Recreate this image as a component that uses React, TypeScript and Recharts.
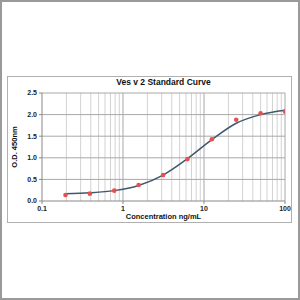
import React from 'react';
import { ComposedChart, Line, Scatter, XAxis, YAxis, ReferenceLine } from 'recharts';

const concentrations = [0.195, 0.39, 0.78, 1.56, 3.125, 6.25, 12.5, 25, 50, 100];
const odMeasured = [0.14, 0.17, 0.24, 0.37, 0.6, 0.97, 1.43, 1.88, 2.03, 2.07];
const odFitted = [0.17, 0.19, 0.24, 0.36, 0.6, 0.98, 1.42, 1.8, 2.0, 2.1];

const xTicks = [0.1, 1, 10, 100];
const yTicks = [0, 0.5, 1, 1.5, 2, 2.5];
const minorX = [
  0.2, 0.3, 0.4, 0.5, 0.6, 0.7, 0.8, 0.9,
  2, 3, 4, 5, 6, 7, 8, 9,
  20, 30, 40, 50, 60, 70, 80, 90,
];

const points = concentrations.map((x, i) => ({ x, y: odMeasured[i] }));
const curve = concentrations.map((x, i) => ({ x, y: odFitted[i] }));

const font = 'Arial, "Liberation Sans", sans-serif';
const tickStyle = { fontSize: 7, fontWeight: 700, fill: '#222', fontFamily: font };

const App: React.FC = () => {
  return (
    <div style={{ position: 'absolute', left: 0, top: 0, width: 300, height: 300, background: '#fff', fontFamily: font }}>
      <div style={{ position: 'absolute', inset: 0, border: '2px solid #9a9a9a', boxSizing: 'border-box' }} />
      <div style={{ position: 'absolute', left: 7, top: 76, width: 285, height: 147, border: '1px solid #b0b0b0', boxSizing: 'border-box' }} />
      <div style={{ position: 'absolute', left: 42, width: 243, top: 77, textAlign: 'center', fontSize: 8.5, fontWeight: 700, color: '#111' }}>
        Ves v 2 Standard Curve
      </div>
      <div style={{ position: 'absolute', left: 42, width: 243, top: 212, textAlign: 'center', fontSize: 7.5, fontWeight: 700, color: '#111' }}>
        Concentration ng/mL
      </div>
      <div style={{ position: 'absolute', left: 14, top: 147, width: 0, height: 0 }}>
        <div style={{ position: 'absolute', transform: 'translate(-50%, -50%) rotate(-90deg)', whiteSpace: 'nowrap', fontSize: 7.5, fontWeight: 700, color: '#111' }}>
          O.D. 450nm
        </div>
      </div>
      <div style={{ position: 'absolute', left: 0, top: 0 }}>
        <ComposedChart width={300} height={300} margin={{ top: 93, right: 15, bottom: 85, left: 12 }}>
          <XAxis
            dataKey="x"
            type="number"
            scale="log"
            domain={[0.1, 100]}
            ticks={xTicks}
            allowDataOverflow
            height={14}
            tick={tickStyle}
            tickSize={3}
            stroke="#888"
            tickFormatter={(v: number) => String(v)}
          />
          <YAxis
            type="number"
            domain={[0, 2.5]}
            ticks={yTicks}
            width={30}
            tick={tickStyle}
            tickSize={3}
            stroke="#888"
            tickFormatter={(v: number) => v.toFixed(1)}
          />
          {minorX.map((v) => (
            <ReferenceLine key={`mx-${v}`} x={v} stroke="#d2d2d2" strokeWidth={1} />
          ))}
          {xTicks.slice(1).map((v) => (
            <ReferenceLine key={`x-${v}`} x={v} stroke="#a8a8a8" strokeWidth={1} />
          ))}
          {yTicks.slice(1).map((v) => (
            <ReferenceLine key={`y-${v}`} y={v} stroke="#a8a8a8" strokeWidth={1} />
          ))}
          <Line data={curve} dataKey="y" type="monotone" stroke="#3f5870" strokeWidth={1.5} dot={false} isAnimationActive={false} />
          <Scatter data={points} dataKey="y" fill="#e8504f" shape={(p: any) => <circle cx={p.cx} cy={p.cy} r={2.3} fill="#e8504f" />} isAnimationActive={false} />
        </ComposedChart>
      </div>
    </div>
  );
};

export default App;
